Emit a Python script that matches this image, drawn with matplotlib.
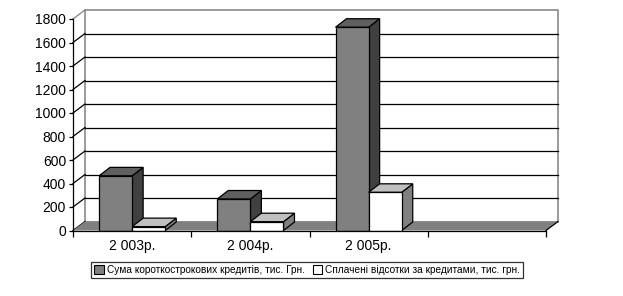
import matplotlib
matplotlib.use('Agg')
import matplotlib.pyplot as plt
from matplotlib.patches import Polygon, Patch
from matplotlib.transforms import IdentityTransform

plt.rcParams['font.family'] = ['Liberation Sans', 'DejaVu Sans']

years = ['2 003р.', '2 004р.', '2 005р.']
credits = [465, 268, 1730]      # Сума короткострокових кредитів
interest = [33, 75, 325]        # Сплачені відсотки
yticks = list(range(0, 2000, 200))
series_names = ['Сума короткострокових кредитів, тис. Грн.',
                'Сплачені відсотки за кредитами, тис. грн.']

n_slots = 4          # excel leaves an empty 4th category
ymax = 1800
bw = 0.28            # bar width in category units
wall_dx, wall_dy = 12, 9   # depth offset of back wall, px
bar_dx, bar_dy = 11, 8.5   # depth offset of bar tops, px

fig = plt.figure(figsize=(6.23, 2.96), dpi=100)
ax = fig.add_axes([73 / 623, 1 - 230.5 / 296, 473 / 623, 211.5 / 296])
ax.set_xlim(0, n_slots)
ax.set_ylim(0, ymax)
ax.patch.set_visible(False)
for s in ['top', 'right']:
    ax.spines[s].set_visible(False)
ax.spines['left'].set_zorder(6)
ax.spines['bottom'].set_zorder(6)


def disp(x, y, dx=0, dy=0):
    px, py = ax.transData.transform((x, y))
    return (px + dx, py + dy)


def poly(points, fc, ec='black', lw=0.9, z=2):
    p = Polygon(points, closed=True, facecolor=fc, edgecolor=ec, lw=lw,
                transform=IdentityTransform(), zorder=z)
    ax.add_patch(p)
    p.set_clip_on(False)
    return p


def line(p0, p1, color='black', lw=0.9, z=1):
    ax.add_line(plt.Line2D([p0[0], p1[0]], [p0[1], p1[1]], color=color, lw=lw,
                           transform=IdentityTransform(), zorder=z, clip_on=False))


# back wall
poly([disp(0, 0, wall_dx, wall_dy), disp(n_slots, 0, wall_dx, wall_dy),
      disp(n_slots, ymax, wall_dx, wall_dy), disp(0, ymax, wall_dx, wall_dy)],
     fc='white', ec='#808080', lw=1.1, z=0.5)
# gridlines on back wall + side wall diagonals
for v in yticks:
    c = '#808080' if v == ymax else 'black'
    if 0 < v < ymax:
        line(disp(0, v, wall_dx, wall_dy), disp(n_slots, v, wall_dx, wall_dy))
    line(disp(0, v), disp(0, v, wall_dx, wall_dy), color=c)

# floor
poly([disp(0, 0), disp(n_slots, 0), disp(n_slots, 0, wall_dx, wall_dy),
      disp(0, 0, wall_dx, wall_dy)], fc='#808080', ec='none', z=1)
line(disp(n_slots, 0), disp(n_slots, 0, wall_dx, wall_dy), z=1.5)

# bars
xs = [i + 0.5 for i in range(len(years))]
styles = [(credits, -bw, '#808080', '#5f5f5f', '#404040'),
          (interest, 0, 'white', '#c0c0c0', '#808080')]
for i, x in enumerate(xs):
    for vals, shift, front, top, side in styles:
        x0, x1, h = x + shift, x + shift + bw, vals[i]
        z = 2 + i * 0.1 + (0.05 if shift == 0 else 0)
        ax.bar(x0, h, width=bw, align='edge', color=front, edgecolor='black',
               lw=0.9, zorder=z + 0.02)
        poly([disp(x0, h), disp(x1, h), disp(x1, h, bar_dx, bar_dy),
              disp(x0, h, bar_dx, bar_dy)], fc=top, z=z + 0.01)
        poly([disp(x1, 0), disp(x1, h), disp(x1, h, bar_dx, bar_dy),
              disp(x1, 0, bar_dx, bar_dy)], fc=side, z=z)

# axes ticks
ax.set_yticks(yticks)
ax.set_yticklabels([str(v) for v in yticks], fontsize=10)
ax.tick_params(axis='y', length=3, width=0.9, pad=2)
ax.set_xticks(range(n_slots + 1))
ax.set_xticklabels([''] * (n_slots + 1))
ax.tick_params(axis='x', which='major', length=4, width=0.9)
ax.set_xticks(xs, minor=True)
ax.set_xticklabels(years, minor=True, fontsize=10)
ax.tick_params(axis='x', which='minor', length=0, pad=6)
for s in ['left', 'bottom']:
    ax.spines[s].set_linewidth(0.9)

handles = [Patch(facecolor='#808080', edgecolor='black', lw=0.8),
           Patch(facecolor='white', edgecolor='black', lw=0.8)]
leg = fig.legend(handles, series_names, loc='center', bbox_to_anchor=(307 / 623, 1 - 270 / 296),
                 ncol=2, fontsize=7.3, frameon=True, fancybox=False, edgecolor='black',
                 handlelength=0.9, handleheight=0.9, handletextpad=0.3, columnspacing=0.8,
                 borderpad=0.3, borderaxespad=0)
leg.get_frame().set_linewidth(0.9)

fig.savefig('out.png', dpi=100)
